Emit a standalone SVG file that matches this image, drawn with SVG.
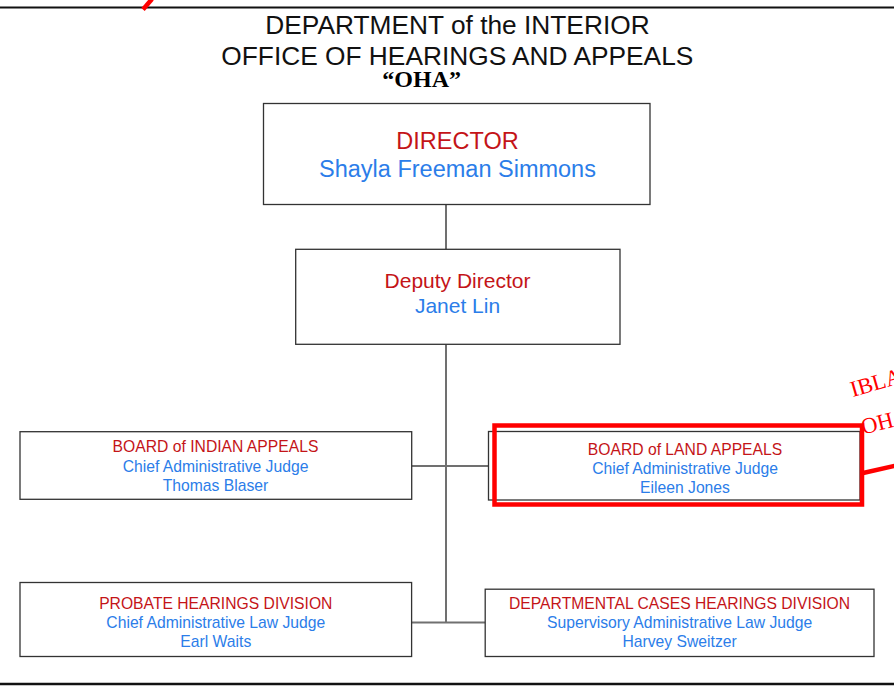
<svg xmlns="http://www.w3.org/2000/svg" width="894" height="686" viewBox="0 0 894 686">
<style>
.box{fill:#ffffff;stroke:#333333;stroke-width:1.3}
.conn{stroke:#707070;stroke-width:2;fill:none}
.t{font-family:"Liberation Sans",Arial,sans-serif;text-anchor:middle}
.red{fill:#c41418}
.blue{fill:#2b7de9}
.title{font-family:"Liberation Sans",Arial,sans-serif;font-size:26.3px;fill:#111111;text-anchor:middle}
.s{font-size:15.7px}
.ann{stroke:#ff0000;stroke-width:4.5;fill:none}
.annt{font-family:"Liberation Serif","Times New Roman",serif;font-size:22.5px;fill:#ff0000}
</style>
<rect width="894" height="686" fill="#ffffff"/>
<g id="frame">
<line x1="0" y1="7.5" x2="894" y2="7.5" stroke="#111" stroke-width="2"/>
<line x1="0" y1="684" x2="894" y2="684" stroke="#111" stroke-width="2.5"/>
</g>
<g id="title">
<text class="title" x="457.5" y="33.5">DEPARTMENT of the INTERIOR</text>
<text class="title" x="457.3" y="64.5">OFFICE OF HEARINGS AND APPEALS</text>
<text x="421.7" y="87" font-family="'Liberation Serif','Times New Roman',serif" font-size="24" font-weight="bold" fill="#000" text-anchor="middle">“OHA”</text>
</g>
<g id="connectors">
<line class="conn" x1="446" y1="204.3" x2="446" y2="249.3"/>
<line class="conn" x1="446" y1="344.3" x2="446" y2="622.5"/>
<line class="conn" x1="411.7" y1="466" x2="488.5" y2="466" stroke="#555" stroke-width="1.6"/>
<line class="conn" x1="411.6" y1="622.5" x2="485.2" y2="622.5"/>
</g>
<g id="director">
<rect class="box" x="263.5" y="103.5" width="386.5" height="101"/>
<text class="t red" x="457.5" y="149" font-size="23.5">DIRECTOR</text>
<text class="t blue" x="457.5" y="177" font-size="23.5">Shayla Freeman Simmons</text>
</g>
<g id="deputy">
<rect class="box" x="295.7" y="249.3" width="324.3" height="95"/>
<text class="t red" x="457.5" y="288.3" font-size="21">Deputy Director</text>
<text class="t blue" x="457.5" y="313.3" font-size="21">Janet Lin</text>
</g>
<g id="ibia">
<rect class="box" x="20" y="431.7" width="391.7" height="67.6"/>
<text class="t red s" x="215.5" y="451.7">BOARD of INDIAN APPEALS</text>
<text class="t blue s" x="215.5" y="471.7">Chief Administrative Judge</text>
<text class="t blue s" x="215.5" y="490.7">Thomas Blaser</text>
</g>
<g id="ibla">
<rect class="box" x="488.5" y="431.5" width="371.5" height="68.5"/>
<text class="t red s" x="685" y="455">BOARD of LAND APPEALS</text>
<text class="t blue s" x="685" y="474.3">Chief Administrative Judge</text>
<text class="t blue s" x="685" y="493.3">Eileen Jones</text>
</g>
<g id="probate">
<rect class="box" x="20" y="582.5" width="391.6" height="74"/>
<text class="t red s" x="215.8" y="608.7">PROBATE HEARINGS DIVISION</text>
<text class="t blue s" x="215.8" y="628.2">Chief Administrative Law Judge</text>
<text class="t blue s" x="215.8" y="646.6">Earl Waits</text>
</g>
<g id="dchd">
<rect class="box" x="485.2" y="589.2" width="388.8" height="67.3"/>
<text class="t red s" x="679.6" y="608.5">DEPARTMENTAL CASES HEARINGS DIVISION</text>
<text class="t blue s" x="679.6" y="628.2">Supervisory Administrative Law Judge</text>
<text class="t blue s" x="679.6" y="646.6">Harvey Sweitzer</text>
</g>
<g id="annotations">
<line class="ann" x1="143" y1="9.5" x2="152" y2="-1" stroke-width="4"/>
<rect class="ann" x="494.5" y="425.5" width="367.5" height="79"/>
<line class="ann" x1="862" y1="473.3" x2="896" y2="465.5"/>
<text class="annt" transform="translate(852.7 397) rotate(-16)">IBLA</text>
<text class="annt" transform="translate(863.3 434.5) rotate(-14)">OH</text>
</g>
</svg>
